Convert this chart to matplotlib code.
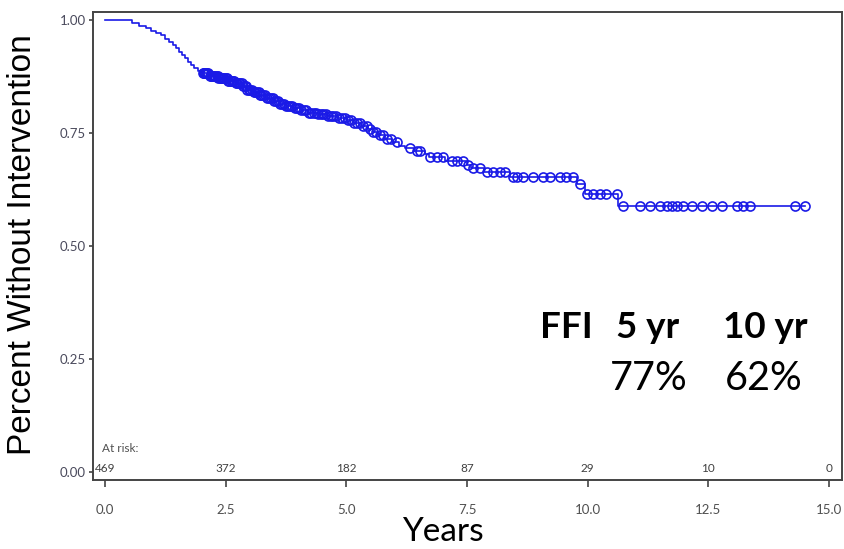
import numpy as np
import matplotlib
matplotlib.use("Agg")
import matplotlib.pyplot as plt

# ---- data ----
event_times = [0.56, 0.70, 0.85, 0.95, 1.05, 1.15, 1.25, 1.32, 1.40, 1.47, 1.53, 1.60,
               1.66, 1.72, 1.78, 1.85, 1.93, 2.00, 2.15, 2.35, 2.55, 2.70, 2.85, 2.95,
               3.05, 3.20, 3.35, 3.50, 3.62, 3.75, 3.90, 4.05, 4.20, 4.40, 4.60, 4.80,
               5.00, 5.15, 5.30, 5.45, 5.55, 5.65, 5.80, 5.95, 6.10, 6.22, 6.40, 6.62,
               6.72, 7.05, 7.50, 7.58, 7.85, 8.40, 9.78, 9.94, 10.63]
event_surv = [0.993, 0.987, 0.982, 0.976, 0.971, 0.966, 0.959, 0.952, 0.945, 0.938, 0.930, 0.922,
              0.915, 0.908, 0.901, 0.894, 0.888, 0.882, 0.876, 0.871, 0.866, 0.860, 0.853, 0.846,
              0.840, 0.834, 0.828, 0.821, 0.815, 0.810, 0.805, 0.800, 0.795, 0.791, 0.787, 0.783,
              0.778, 0.772, 0.766, 0.759, 0.752, 0.745, 0.737, 0.729, 0.722, 0.716, 0.710, 0.703,
              0.696, 0.689, 0.680, 0.673, 0.664, 0.653, 0.637, 0.615, 0.588]
follow_up_end = 14.5

censor_times = [2.02, 2.04, 2.06, 2.08, 2.10, 2.12, 2.14, 2.17, 2.19, 2.21, 2.24, 2.26, 2.28,
                2.31, 2.33, 2.35, 2.38, 2.40, 2.42, 2.45, 2.47, 2.50, 2.52, 2.55, 2.57, 2.60,
                2.62, 2.65, 2.68, 2.71, 2.74, 2.77, 2.80, 2.83, 2.86, 2.89, 2.92, 2.95, 2.98,
                3.01, 3.04, 3.08, 3.11, 3.14, 3.18, 3.21, 3.24, 3.28, 3.31, 3.35, 3.39, 3.43,
                3.47, 3.51, 3.55, 3.59, 3.63, 3.67, 3.71, 3.75, 3.80, 3.84, 3.88, 3.93, 3.97,
                4.02, 4.07, 4.12, 4.17, 4.22, 4.27, 4.32, 4.37, 4.42, 4.47, 4.52, 4.57, 4.62,
                4.68, 4.73, 4.79, 4.85, 4.91, 4.97, 5.03, 5.09, 5.15, 5.21, 5.28, 5.35, 5.42,
                5.49, 5.56, 5.62, 5.69, 5.76, 5.84, 5.92, 6.04, 6.32, 6.46, 6.53, 6.73, 6.87,
                7.01, 7.18, 7.29, 7.42, 7.53, 7.63, 7.77, 7.91, 8.04, 8.18, 8.29, 8.46, 8.53,
                8.67, 8.87, 9.08, 9.22, 9.43, 9.56, 9.70, 9.84, 9.98, 10.12, 10.25, 10.39, 10.60,
                10.73, 11.08, 11.29, 11.50, 11.64, 11.74, 11.85, 11.97, 12.16, 12.37, 12.57,
                12.78, 13.09, 13.22, 13.36, 14.29, 14.50]

risk_times = [0.0, 2.5, 5.0, 7.5, 10.0, 12.5, 15.0]
risk_counts = [469, 372, 182, 87, 29, 10, 0]

x_ticks = [0.0, 2.5, 5.0, 7.5, 10.0, 12.5, 15.0]
x_ticklabels = ["0.0", "2.5", "5.0", "7.5", "10.0", "12.5", "15.0"]
y_ticks = [0.0, 0.25, 0.50, 0.75, 1.00]
y_ticklabels = ["0.00", "0.25", "0.50", "0.75", "1.00"]

# ---- figure ----
W, H = 844, 549
fig = plt.figure(figsize=(W / 100, H / 100), dpi=100)
ax = fig.add_axes([93 / W, 1 - 480 / H, (842 - 93) / W, (480 - 12) / H])

blue = "#1a1ae6"
st = np.concatenate([[0.0], event_times, [follow_up_end]])
ss = np.concatenate([[1.0], event_surv, [event_surv[-1]]])
ax.step(st, ss, where="post", color=blue, lw=1.2, zorder=3)

# censor marks on the step function
idx = np.searchsorted(st, censor_times, side="right") - 1
cs = ss[idx]
ax.plot(censor_times, cs, linestyle="none", marker="o", markersize=6.5,
        markerfacecolor="none", markeredgecolor=blue, markeredgewidth=1.2, zorder=4)

ax.set_xlim(-0.25, 15.27)
ax.set_ylim(-0.0177, 1.0177)
ax.set_xticks(x_ticks)
ax.set_xticklabels(x_ticklabels)
ax.set_yticks(y_ticks)
ax.set_yticklabels(y_ticklabels)

for sp in ax.spines.values():
    sp.set_color("#444444")
    sp.set_linewidth(1.4)
ax.tick_params(axis="x", direction="out", length=5, width=1.2, color="#444444",
               labelsize=9.5, labelcolor="#505050", pad=12)
ax.tick_params(axis="y", direction="out", length=3, width=1.2, color="#444444",
               labelsize=9.5, labelcolor="#4a4a5c", pad=2)
for lab in ax.get_xticklabels() + ax.get_yticklabels():
    lab.set_family("Lato")

# at-risk table
ax.text(-0.06, 0.053, "At risk:", fontsize=8.5, color="#505050", ha="left", va="center",
        family="Lato")
for t, n in zip(risk_times, risk_counts):
    ax.text(t, 0.008, str(n), fontsize=8.5, color="#404040", ha="center", va="center",
            family="Lato")

# labels
fig.text(23 / W, 1 - 245 / H, "Percent Without Intervention", rotation=90,
         ha="center", va="center", fontsize=24, family="Liberation Sans", color="black")
fig.text(443 / W, 1 - 532 / H, "Years", ha="center", va="center", fontsize=24,
         family="Lato", color="black")

# FFI annotation
bold_fs = 26.5
reg_fs = 28.5
fig.text(566 / W, 1 - 327 / H, "FFI", ha="center", va="center", fontsize=bold_fs,
         family="Lato", weight="bold")
fig.text(648 / W, 1 - 327 / H, "5 yr", ha="center", va="center", fontsize=bold_fs,
         family="Lato", weight="bold")
fig.text(765 / W, 1 - 327 / H, "10 yr", ha="center", va="center", fontsize=bold_fs,
         family="Lato", weight="bold")
fig.text(649 / W, 1 - 378 / H, "77%", ha="center", va="center", fontsize=reg_fs,
         family="Lato")
fig.text(764 / W, 1 - 378 / H, "62%", ha="center", va="center", fontsize=reg_fs,
         family="Lato")

fig.savefig("out.png", dpi=100)
